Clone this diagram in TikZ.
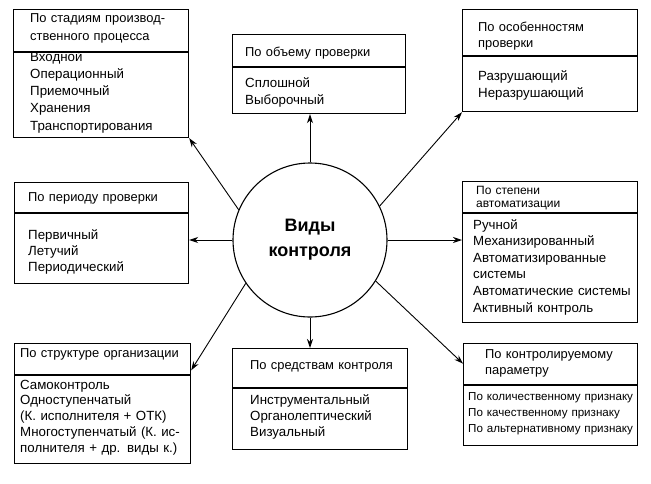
\documentclass[tikz,border=0pt]{standalone}
\usepackage{fontspec}
\setmainfont{Liberation Sans}
\usetikzlibrary{arrows.meta,calc}
\begin{document}
\begin{tikzpicture}[x=1pt,y=-1pt,
  box/.style={draw, line width=1.2pt, rectangle, inner sep=0pt, anchor=north west},
  divline/.style={line width=1.1pt},
  txt/.style={anchor=base west, inner sep=0pt, align=left, text width=175pt},
  fs/.style={font=\fontsize{12.9}{#1}\selectfont},
  ct/.style={font=\fontsize{13.3}{#1}\selectfont},
  small/.style={font=\fontsize{11.6}{#1}\selectfont},
  hub/.style={draw, circle, line width=1.1pt, minimum size=154pt, inner sep=0pt, align=center,
    font=\bfseries\fontsize{18}{25}\selectfont},
  conn/.style={line width=0.9pt, -{Stealth[length=9pt,width=6pt]}}
]
\useasboundingbox (0,0) rectangle (651,483);

\newcommand\mybox[6]{%
  \node[box, minimum width={(#4-#2)*1pt}, minimum height={(#5-#3)*1pt}] (#1) at (#2,#3) {};
  \draw[divline] (#2,#6) -- (#4,#6);}

% boxes
\mybox{b1}{13}{9}{188}{137}{52}
\mybox{b2}{232}{34}{405}{113}{67}
\mybox{b3}{462}{9}{637}{111}{56}
\mybox{b4}{14}{182}{188}{283}{213}
\mybox{b5}{462}{181}{637}{322}{213}
\mybox{b6}{14}{343}{190}{463}{375}
\mybox{b7}{232}{348}{407}{449}{388}
\mybox{b8}{463}{343}{637}{445}{385}

% hub
\node[hub] (c) at (310,240) {Виды\\контроля};

% texts
\node[txt, fs=18.5] (h1) at (30,22) {По стадиям производ-\\ственного процесса};
\node[txt, ct=17.3] (t1) at (30,61) {Входной\\Операционный\\Приемочный\\Хранения\\Транспортирования};

\node[txt, fs=17] (h2) at (245,56) {По объему проверки};
\node[txt, ct=17] (t2) at (245,87) {Сплошной\\Выборочный};

\node[txt, fs=16.5] (h3) at (478,31) {По особенностям\\проверки};
\node[txt, ct=17] (t3) at (478,80) {Разрушающий\\Неразрушающий};

\node[txt, fs=16] (h4) at (28,201) {По периоду проверки};
\node[txt, ct=16] (t4) at (28,239) {Первичный\\Летучий\\Периодический};

\node[txt, font=\fontsize{12}{13.5}\selectfont] (h5) at (476,194) {По степени\\автоматизации};
\node[txt, ct=16.6] (t5) at (473,229) {Ручной\\Механизированный\\Автоматизированные\\системы\\Автоматические системы\\Активный контроль};

\node[txt, fs=15.8] (h6) at (20,357) {По структуре организации};
\node[txt, ct=15.8] (t6) at (20,389) {Самоконтроль\\Одноступенчатый\\(К. исполнителя + ОТК)\\Многоступенчатый (К. ис-\\полнителя + др. виды к.)};

\node[txt, fs=16] (h7) at (250,369) {По средствам контроля};
\node[txt, ct=16] (t7) at (250,404) {Инструментальный\\Органолептический\\Визуальный};

\node[txt, fs=16] (h8) at (485,358) {По контролируемому\\параметру};
\node[txt, small=16] (t8) at (468,400) {По количественному признаку\\По качественному признаку\\По альтернативному признаку};

% connectors
\draw[conn] (c.157) -- (b1.south east);
\draw[conn] (c.north) -- (c.north |- b2.south);
\draw[conn] (c.26) -- (b3.south west);
\draw[conn] (c.west) -- (c.west -| b4.east);
\draw[conn] (c.east) -- (c.east -| b5.west);
\draw[conn] (c.214) -- ($(b6.north east)!0.225!(b6.south east)$);
\draw[conn] (c.south) -- (c.south |- b7.north);
\draw[conn] (c.-32) -- ($(b8.north west)!0.2!(b8.south west)$);
\end{tikzpicture}
\end{document}
